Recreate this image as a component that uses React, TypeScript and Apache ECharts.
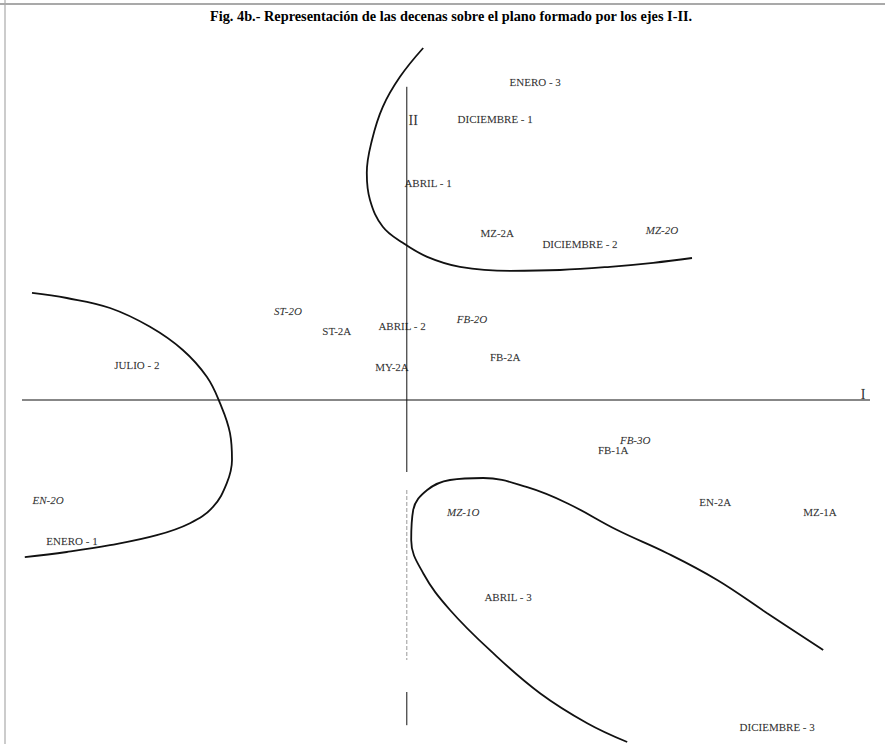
import React, { useEffect, useRef } from "react";
import * as echarts from "echarts";

// Upright labels: [name, axis I, axis II]
const uprightLabels: [string, number, number][] = [
  ["ENERO - 3", 3.23, 7.95],
  ["DICIEMBRE - 1", 2.23, 7.03],
  ["ABRIL - 1", 0.55, 5.43],
  ["MZ-2A", 2.28, 4.18],
  ["DICIEMBRE - 2", 4.35, 3.9],
  ["ST-2A", -1.73, 1.73],
  ["ABRIL - 2", -0.1, 1.85],
  ["JULIO - 2", -6.73, 0.88],
  ["MY-2A", -0.35, 0.83],
  ["FB-2A", 2.48, 1.08],
  ["FB-1A", 5.18, -1.25],
  ["EN-2A", 7.73, -2.55],
  ["MZ-1A", 10.35, -2.8],
  ["ENERO - 1", -8.35, -3.53],
  ["ABRIL - 3", 2.55, -4.93],
  ["DICIEMBRE - 3", 9.28, -8.18],
];

// Italic labels
const italicLabels: [string, number, number][] = [
  ["MZ-2O", 6.4, 4.25],
  ["ST-2O", -2.95, 2.23],
  ["FB-2O", 1.65, 2.03],
  ["FB-3O", 5.73, -1.0],
  ["EN-2O", -8.95, -2.5],
  ["MZ-1O", 1.43, -2.8],
];

// Axis names
const axisNames: [string, number, number][] = [
  ["I", 11.43, 0.15],
  ["II", 0.18, 7.0],
];

// Hand-drawn grouping curves
const curveTop: [number, number][] = [
  [0.43, 8.8], [-0.15, 8.08], [-0.58, 7.33], [-0.85, 6.5], [-0.98, 5.68],
  [-0.9, 5.0], [-0.58, 4.33], [-0.08, 3.93], [0.53, 3.58], [1.35, 3.33],
  [2.6, 3.23], [3.85, 3.25], [5.1, 3.33], [6.18, 3.43], [7.15, 3.55],
];
const curveLeft: [number, number][] = [
  [-9.35, 2.68], [-8.48, 2.55], [-7.4, 2.3], [-6.4, 1.83], [-5.58, 1.25],
  [-4.98, 0.58], [-4.65, -0.08], [-4.4, -0.83], [-4.35, -1.5], [-4.48, -2.08],
  [-4.83, -2.68], [-5.4, -3.08], [-6.23, -3.38], [-7.4, -3.63], [-8.48, -3.8],
  [-9.53, -3.93],
];
const curveBottom: [number, number][] = [
  [10.43, -6.25], [9.03, -5.33], [7.78, -4.5], [6.53, -3.83], [5.28, -3.25],
  [4.03, -2.58], [3.03, -2.18], [1.93, -1.95], [1.1, -2.0], [0.53, -2.25],
  [0.18, -2.75], [0.13, -3.5], [0.43, -4.33], [1.1, -5.25], [2.18, -6.33],
  [3.35, -7.33], [4.53, -8.08], [5.53, -8.55],
];

// Axis line segments
const axisIHoriz: [number, number][] = [[-9.6, 0], [11.6, 0]];
const axisIITop: [number, number][] = [[0.02, 7.83], [0.02, -1.8]];
const axisIIMid: [number, number][] = [[0.02, -2.25], [0.02, -6.5]];
const axisIIBottom: [number, number][] = [[0.02, -7.3], [0.02, -8.13]];

const TITLE = "Fig. 4b.- Representación de las decenas sobre el plano formado por los ejes I-II.";

const SERIF = "'Liberation Serif', 'DejaVu Serif', serif";

export default function App() {
  const ref = useRef<HTMLDivElement>(null);
  useEffect(() => {
    document.body.style.margin = "0";
    if (!ref.current) return;
    const chart = echarts.init(ref.current, undefined, { renderer: "svg" });

    const labelSeries = (data: [string, number, number][], italic: boolean, size: number) => ({
      type: "scatter",
      symbolSize: 0,
      silent: true,
      data: data.map((d) => ({ name: d[0], value: [d[1], d[2]] })),
      label: {
        show: true,
        position: "inside",
        formatter: "{b}",
        fontFamily: SERIF,
        fontSize: size,
        fontStyle: italic ? "italic" : "normal",
        color: "#000",
        textBorderColor: "rgba(0,0,0,0.35)",
        textBorderWidth: 0.3,
      },
    });

    const lineSeries = (data: [number, number][], width: number, smooth: boolean, color = "#111", type = "solid") => ({
      type: "line",
      data,
      smooth: smooth ? 0.4 : false,
      showSymbol: false,
      silent: true,
      lineStyle: { color, width, type },
    });

    chart.setOption({
      animation: false,
      backgroundColor: "#ffffff",
      title: {
        text: TITLE,
        left: 205,
        top: 4,
        textStyle: { fontFamily: SERIF, fontWeight: "bold", fontSize: 14.3, color: "#000" },
      },
      grid: { left: 0, right: 0, top: 0, bottom: 0 },
      xAxis: {
        type: "value",
        min: -10.15,
        max: 11.975,
        show: false,
        splitLine: { show: false },
      },
      yAxis: {
        type: "value",
        min: -8.6,
        max: 10,
        show: false,
        splitLine: { show: false },
      },
      graphic: [
        { type: "line", shape: { x1: 0, y1: 4, x2: 885, y2: 4 }, style: { stroke: "#555", lineWidth: 1.2 } },
        { type: "line", shape: { x1: 5, y1: 0, x2: 5, y2: 744 }, style: { stroke: "#aaa", lineWidth: 1.2 } },
      ],
      series: [
        lineSeries(axisIHoriz, 1.2, false),
        lineSeries(axisIITop, 1, false),
        lineSeries(axisIIMid, 1, false, "#999", "dashed"),
        lineSeries(axisIIBottom, 1, false),
        lineSeries(curveTop, 1.8, true),
        lineSeries(curveLeft, 1.8, true),
        lineSeries(curveBottom, 1.8, true),
        labelSeries(uprightLabels, false, 11),
        labelSeries(italicLabels, true, 11),
        labelSeries(axisNames, false, 14),
      ],
    });
    return () => chart.dispose();
  }, []);
  return <div ref={ref} style={{ width: 885, height: 744 }} />;
}
